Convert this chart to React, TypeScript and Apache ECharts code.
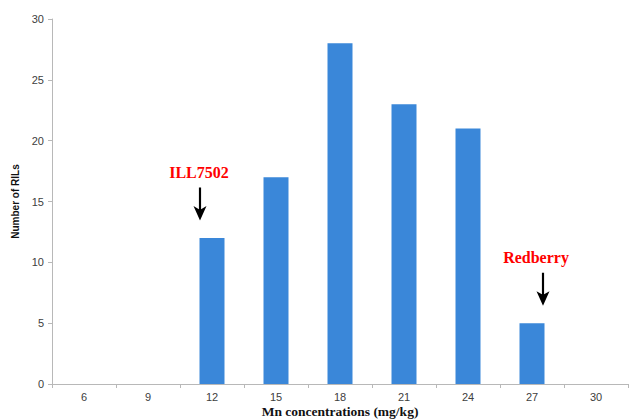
import React, { useEffect, useRef } from "react";
import * as echarts from "echarts";

const categories = ["6", "9", "12", "15", "18", "21", "24", "27", "30"];
const counts = [0, 0, 12, 17, 28, 23, 21, 5, 0];
const yTicks = { min: 0, max: 30, interval: 5 };
const annotations = [
  { category: "12", value: 12, text: "ILL7502", dx: -12, textDx: -1 },
  { category: "27", value: 5, text: "Redberry", dx: 11, textDx: -7 },
];

const arrowPath = "path://M5,0 L7,0 L7,21 L12,18 L6,32 L0,18 L5,21 Z";

export default function App() {
  const ref = useRef<HTMLDivElement>(null);
  useEffect(() => {
    document.body.style.margin = "0";
    const chart = echarts.init(ref.current!, null, { renderer: "svg" });
    chart.setOption({
      animation: false,
      backgroundColor: "#ffffff",
      grid: {
        left: 52,
        right: 10,
        top: 19,
        bottom: 36,
        containLabel: false,
        outerBoundsMode: "none",
      },
      xAxis: {
        type: "category",
        data: categories,
        name: "Mn concentrations (mg/kg)",
        nameLocation: "middle",
        nameMoveOverlap: false,
        nameGap: 20,
        nameTextStyle: {
          fontFamily: "Liberation Serif",
          fontWeight: "bold",
          fontSize: 13.5,
          lineHeight: 14,
          color: "#111",
        },
        axisLine: { lineStyle: { color: "#b8b8b8", width: 1 } },
        axisTick: { show: true, length: 4, lineStyle: { color: "#b8b8b8" } },
        axisLabel: {
          margin: 7,
          lineHeight: 12,
          fontFamily: "Liberation Sans",
          fontSize: 11,
          color: "#404040",
        },
      },
      yAxis: {
        type: "value",
        min: yTicks.min,
        max: yTicks.max,
        interval: yTicks.interval,
        name: "Number of RILs",
        nameLocation: "middle",
        nameMoveOverlap: false,
        nameGap: 32,
        nameTextStyle: {
          fontFamily: "Liberation Sans",
          fontWeight: "bold",
          fontSize: 10,
          color: "#111",
        },
        axisLine: { show: true, lineStyle: { color: "#b8b8b8", width: 1 } },
        axisTick: { show: true, length: 4, lineStyle: { color: "#b8b8b8" } },
        splitLine: { show: false },
        axisLabel: {
          margin: 8,
          fontFamily: "Liberation Sans",
          fontSize: 11,
          color: "#404040",
        },
      },
      series: [
        {
          type: "bar",
          data: counts,
          barWidth: 25,
          itemStyle: { color: "#3a87d9" },
          markPoint: {
            silent: true,
            data: annotations.map((a) => ({
              coord: [a.category, a.value],
              symbol: arrowPath,
              symbolSize: [13, 33],
              symbolOffset: [a.dx, -34],
              symbolKeepAspect: false,
              itemStyle: { color: "#000" },
              label: {
                show: true,
                position: "top",
                distance: 7,
                offset: [a.textDx, 0],
                formatter: a.text,
                fontFamily: "Liberation Serif",
                fontWeight: "bold",
                fontSize: 16,
                color: "#ff0000",
              },
            })),
          },
        },
      ],
    });
    return () => chart.dispose();
  }, []);
  return <div ref={ref} style={{ width: 638, height: 420 }} />;
}
